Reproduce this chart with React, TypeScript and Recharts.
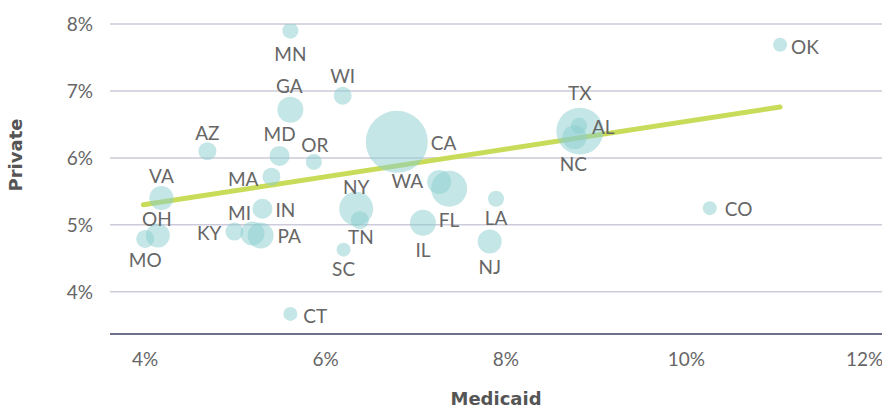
import React from 'react';
import { ScatterChart, Scatter, XAxis, YAxis, ZAxis, CartesianGrid, Label } from 'recharts';

const states = ['MN','GA','WI','AZ','MD','OR','CA','TX','AL','NC','OK','VA','MA','IN','NY','TN','SC','WA','FL','IL','LA','NJ','CO','CT','OH','MO','KY','MI','PA'];
const medicaid = [5.61,5.61,6.19,4.69,5.49,5.87,6.79,8.82,8.81,8.76,11.04,4.18,5.40,5.30,6.34,6.38,6.20,7.26,7.37,7.08,7.89,7.82,10.26,5.61,4.14,4.00,4.99,5.19,5.28];
const privateRate = [7.90,6.72,6.93,6.10,6.03,5.94,6.24,6.40,6.48,6.31,7.69,5.40,5.72,5.24,5.24,5.07,4.63,5.64,5.54,5.03,5.39,4.75,5.25,3.67,4.84,4.79,4.90,4.87,4.84];
const bubbleSize = [64,169,81,81,100,64,961,552,64,144,49,144,81,100,289,81,49,144,324,169,64,144,49,49,144,81,81,144,169];

const trendMedicaid = [3.98, 11.04];
const trendPrivate = [5.30, 6.76];

const xTicks = [4, 6, 8, 10, 12];
const yTicks = [4, 5, 6, 7, 8];

// label placement: [anchor, dx, dy(center)]
const labelPlacement: Record<string, [string, number, number]> = {
  MN: ['middle', 0, 23], GA: ['middle', -1, -24], WI: ['middle', 0, -20], AZ: ['middle', 0, -18],
  MD: ['middle', 0, -22], OR: ['middle', 1, -17], CA: ['start', 34, 1], TX: ['middle', 0, -38],
  AL: ['start', 13, 1], NC: ['middle', -1, 27], OK: ['start', 11, 2], VA: ['middle', 0, -22],
  MA: ['end', -13, 2], IN: ['start', 13, 1], NY: ['middle', 0, -22], TN: ['middle', 1, 17],
  SC: ['middle', 0, 19], WA: ['end', -16, -1], FL: ['middle', 0, 31], IL: ['middle', 0, 27],
  LA: ['middle', 0, 19], NJ: ['middle', 0, 25], CO: ['start', 15, 1], CT: ['start', 13, 2],
  OH: ['middle', -1, -17], MO: ['middle', 0, 21], KY: ['end', -13, 1], MI: ['middle', -13, -21],
  PA: ['start', 17, 0],
};

const data = states.map((s, i) => ({ state: s, x: medicaid[i], y: privateRate[i], z: bubbleSize[i] }));
const trend = trendMedicaid.map((x, i) => ({ x, y: trendPrivate[i] }));

const FONT = 'Lato, "Open Sans", sans-serif';
const TITLE_FONT = '"DejaVu Sans", sans-serif';

const LabelShape = (props: any) => {
  const { cx, cy, payload } = props;
  const p = labelPlacement[payload.state] || ['middle', 0, 0];
  return (
    <text x={cx + p[1]} y={cy + p[2] + 7} textAnchor={p[0] as any} fontFamily={FONT} fontSize={19} fill="#666">
      {payload.state}
    </text>
  );
};

export default function App() {
  return (
    <div style={{ position: 'absolute', left: 0, top: 0, width: 882, height: 408, overflow: 'hidden', background: '#fff' }}>
      <ScatterChart width={882} height={408} margin={{ top: 24, right: 0, bottom: 0, left: 0 }}>
        <CartesianGrid vertical={false} stroke="#cdcad9" strokeWidth={1.5} />
        <XAxis
          type="number"
          dataKey="x"
          domain={[3.61, 12.17]}
          ticks={xTicks}
          tickFormatter={(v: number) => `${v}%`}
          height={74}
          tickSize={0}
          tickMargin={19}
          axisLine={{ stroke: '#4b4f6c', strokeWidth: 1.5 }}
          tick={{ fontFamily: FONT, fontSize: 19, fill: '#666' }}
          allowDataOverflow
        >
          <Label value="Medicaid" position="insideBottom" offset={3} style={{ fontFamily: TITLE_FONT, fontWeight: 'bold', fontSize: 18, fill: '#555' }} />
        </XAxis>
        <YAxis
          type="number"
          dataKey="y"
          domain={[3.37, 8]}
          ticks={yTicks}
          tickFormatter={(v: number) => `${v}%`}
          width={110}
          tickSize={0}
          tickMargin={17}
          axisLine={false}
          tick={{ fontFamily: FONT, fontSize: 19, fill: '#666' }}
          allowDataOverflow
        >
          <Label
            content={() => (
              <text x={0} y={0} transform="translate(22,155) rotate(-90)" textAnchor="middle" fontFamily={TITLE_FONT} fontWeight="bold" fontSize={18} fill="#555">
                Private
              </text>
            )}
          />
        </YAxis>
        <ZAxis type="number" dataKey="z" domain={[0, 1000]} range={[0, 1000 * Math.PI]} />
        <Scatter
          data={trend}
          fill="#c9dc5a"
          line={{ stroke: '#c9dc5a', strokeWidth: 5, strokeLinecap: 'round' }}
          lineType="joint"
          shape={() => <g />}
          isAnimationActive={false}
        />
        <Scatter data={data} fill="#89cdcd" fillOpacity={0.5} isAnimationActive={false} />
        <Scatter data={data} shape={LabelShape} isAnimationActive={false} />
      </ScatterChart>
    </div>
  );
}
